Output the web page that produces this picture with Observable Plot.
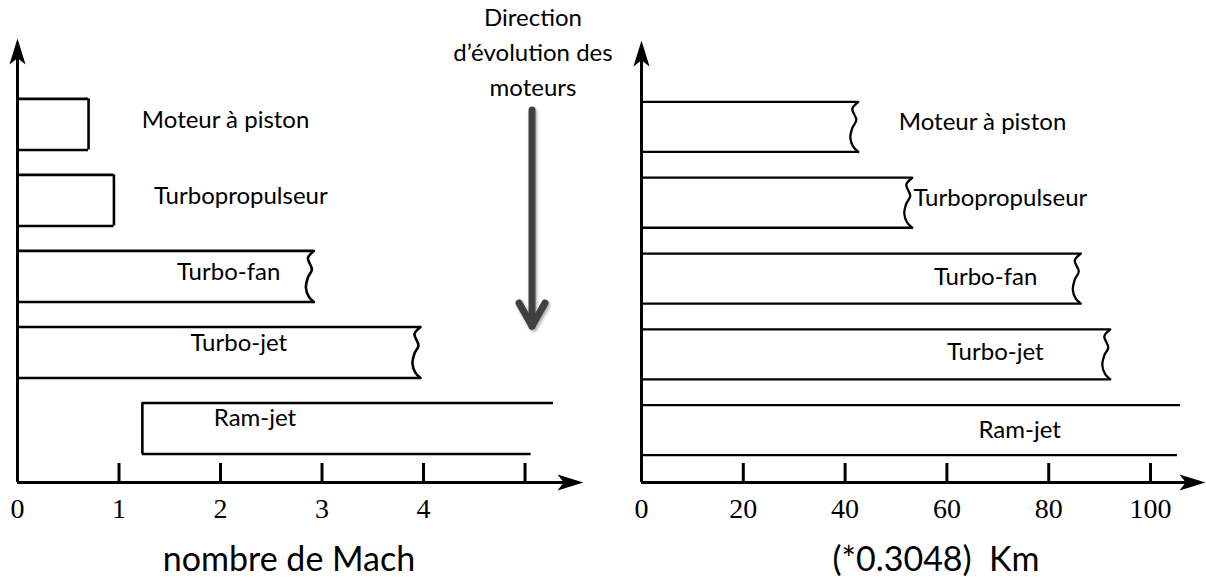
<!DOCTYPE html>
<html>
<head>
<meta charset="utf-8">
<script src="https://cdn.jsdelivr.net/npm/d3@7"></script>
<script src="https://cdn.jsdelivr.net/npm/@observablehq/plot@0.6"></script>
<style>
  html, body { margin: 0; padding: 0; background: #fff; }
  #root { position: relative; width: 1206px; height: 581px; overflow: hidden; background: #fff; }
  .panel { position: absolute; top: 0; }
  #overlay { position: absolute; left: 0; top: 0; pointer-events: none; }
</style>
</head>
<body>
<div id="root">
  <div id="left" class="panel" style="left:0px"></div>
  <div id="right" class="panel" style="left:606px"></div>
  <svg id="overlay" width="1206" height="581"></svg>
</div>
<script>
// ---------------- DATA ----------------
const engines = ["Moteur à piston", "Turbopropulseur", "Turbo-fan", "Turbo-jet", "Ram-jet"];

// Left panel: nombre de Mach
const machStart     = [0, 0, 0, 0, 1.23];
const machEndTop    = [0.70, 0.95, 2.92, 3.97, 5.28];
const machEndBottom = [0.70, 0.95, 2.92, 3.97, 5.06];
const machEdge      = ["straight", "straight", "wavy", "wavy", "open"];
const machTickMarks = [1, 2, 3, 4, 5];
const machTickLabels = [0, 1, 2, 3, 4];

// Right panel: altitude (*0.3048 Km)
const altStart     = [0, 0, 0, 0, 0];
const altEndTop    = [42.6, 53.2, 86.3, 92.1, 105.9];
const altEndBottom = [42.6, 53.2, 86.3, 92.1, 105.3];
const altEdge      = ["wavy", "wavy", "wavy", "wavy", "open"];
const altTickMarks = [20, 40, 60, 80, 100];
const altTickLabels = [0, 20, 40, 60, 80, 100];

const machTitle = "nombre de Mach";
const altTitle = "(*0.3048)  Km";
const directionLines = ["Direction", "d’évolution des", "moteurs"];

// ---------------- LAYOUT ----------------
const textFont = "Lato, 'Open Sans', sans-serif";
const tickFont = "'Liberation Serif', 'DejaVu Serif', serif";

// arrowhead symbol (stealth style, pointing up, tip at origin)
const stealth = {
  draw(ctx, size) {
    const L = Math.sqrt(size / Math.PI);
    const w = L * 0.31, n = L * 0.24;
    ctx.moveTo(0, 0);
    ctx.lineTo(-w, L);
    ctx.lineTo(0, L - n);
    ctx.lineTo(w, L);
    ctx.closePath();
  }
};

const waveT   = [0, 0.14, 0.36, 0.52, 0.72, 0.9, 1];
const waveOff = [0, -6, -2, -6, -8, -5, 0];

function panel(cfg) {
  const {width, height, marginLeft, marginRight, marginTop, marginBottom,
         xMax, yBottom, yTop, start, endTop, endBottom, edge,
         tickMarks, tickLabels, labelX, labelDy, half, stroke} = cfg;
  const pxX = (width - marginLeft - marginRight) / xMax;
  const pxY = (height - marginTop - marginBottom) / (yBottom - yTop);
  const rows = engines.map((name, i) => ({
    name, i, start: start[i], endTop: endTop[i], endBottom: endBottom[i], edge: edge[i],
    top: i - half, bottom: i + half
  }));
  const hEdges = rows.flatMap(r => [
    {x1: r.start, x2: r.endTop, y: r.top},
    {x1: r.start, x2: r.endBottom, y: r.bottom}
  ]);
  const vEdges = [];
  rows.forEach(r => {
    if (r.start > 0) vEdges.push({x: r.start, y1: r.top, y2: r.bottom});
    if (r.edge === "straight") vEdges.push({x: r.endTop, y1: r.top, y2: r.bottom});
  });
  const wave = rows.filter(r => r.edge === "wavy").flatMap(r =>
    waveT.map((t, k) => ({
      key: r.name,
      x: r.endTop + waveOff[k] / pxX,
      y: r.top + t * (r.bottom - r.top)
    })));
  const tickLen = 19 / pxY;
  const headTrim = 12 / pxX, headTrimY = 12 / pxY;

  return Plot.plot({
    width, height, marginLeft, marginRight, marginTop, marginBottom,
    style: {background: "transparent", overflow: "visible"},
    x: {domain: [0, xMax], axis: null},
    y: {domain: [yBottom, yTop], axis: null},
    marks: [
      Plot.ruleY(hEdges, {x1: "x1", x2: "x2", y: "y", stroke: "#000", strokeWidth: stroke}),
      Plot.ruleX(vEdges, {x: "x", y1: "y1", y2: "y2", stroke: "#000", strokeWidth: stroke}),
      Plot.line(wave, {x: "x", y: "y", z: "key", curve: "catmull-rom", stroke: "#000", strokeWidth: stroke}),
      Plot.ruleX([0], {y1: yBottom, y2: yTop + headTrimY, stroke: "#000", strokeWidth: 3}),
      Plot.ruleY([yBottom], {x1: 0, x2: xMax - headTrim, stroke: "#000", strokeWidth: 3}),
      Plot.dot([[0, yTop]], {x: d => d[0], y: d => d[1], r: 26, symbol: stealth, fill: "#000", stroke: "none"}),
      Plot.dot([[xMax, yBottom]], {x: d => d[0], y: d => d[1], r: 26, symbol: stealth, fill: "#000", stroke: "none", rotate: 90}),
      Plot.ruleX(tickMarks, {x: d => d, y1: yBottom, y2: yBottom - tickLen, stroke: "#000", strokeWidth: 3}),
      Plot.text(tickLabels, {x: d => d, y: yBottom, dy: 27, text: d => String(d),
        fontFamily: tickFont, fontSize: 28, fill: "#000", lineAnchor: "middle", textAnchor: "middle"}),
      Plot.text(rows, {x: r => labelX[r.i], y: r => r.i + labelDy[r.i], text: "name",
        fontFamily: textFont, fontSize: 24, fill: "#000", lineAnchor: "middle", textAnchor: "middle"})
    ]
  });
}

const left = panel({
  width: 600, height: 530, marginLeft: 17, marginRight: 17, marginTop: 38, marginBottom: 48,
  xMax: 5.576, yBottom: 4.71, yTop: -1.13,
  start: machStart, endTop: machEndTop, endBottom: machEndBottom, edge: machEdge,
  tickMarks: machTickMarks, tickLabels: machTickLabels,
  labelX: [2.05, 2.20, 2.08, 2.18, 2.34],
  labelDy: [-0.05, -0.06, -0.05, -0.12, -0.13],
  half: 0.336, stroke: 2.6
});
document.getElementById("left").appendChild(left);

const right = panel({
  width: 600, height: 530, marginLeft: 35, marginRight: 1, marginTop: 40, marginBottom: 48,
  xMax: 110.8, yBottom: 4.69, yTop: -1.14,
  start: altStart, endTop: altEndTop, endBottom: altEndBottom, edge: altEdge,
  tickMarks: altTickMarks, tickLabels: altTickLabels,
  labelX: [67.0, 70.5, 67.6, 69.5, 74.3],
  labelDy: [-0.06, -0.06, -0.01, -0.03, 0.0],
  half: 0.33, stroke: 2.3
});
document.getElementById("right").appendChild(right);

// ---------------- OVERLAY (titles + direction arrow) ----------------
const ov = d3.select("#overlay");
ov.append("text").attr("x", 289).attr("y", 571).attr("text-anchor", "middle")
  .attr("font-family", textFont).attr("font-size", 34).attr("fill", "#000")
  .style("white-space", "pre").text(machTitle);
ov.append("text").attr("x", 936).attr("y", 571).attr("text-anchor", "middle")
  .attr("font-family", textFont).attr("font-size", 34).attr("fill", "#000")
  .attr("xml:space", "preserve").style("white-space", "pre").text(altTitle);

directionLines.forEach((s, k) => {
  ov.append("text").attr("x", 533).attr("y", 26 + k * 35).attr("text-anchor", "middle")
    .attr("font-family", textFont).attr("font-size", 24).attr("fill", "#000").text(s);
});

const defs = ov.append("defs");
const f = defs.append("filter").attr("id", "sh").attr("x", "-50%").attr("y", "-10%").attr("width", "200%").attr("height", "130%");
f.append("feDropShadow").attr("dx", 1.5).attr("dy", 2).attr("stdDeviation", 1.8).attr("flood-color", "#000").attr("flood-opacity", 0.35);
const g = ov.append("g").attr("filter", "url(#sh)").attr("stroke", "#404040").attr("fill", "none")
  .attr("stroke-width", 7).attr("stroke-linecap", "round").attr("stroke-linejoin", "round");
g.append("line").attr("x1", 532).attr("y1", 110).attr("x2", 532).attr("y2", 326);
g.append("polyline").attr("points", "519,303 532,326 545,303");
</script>
</body>
</html>
